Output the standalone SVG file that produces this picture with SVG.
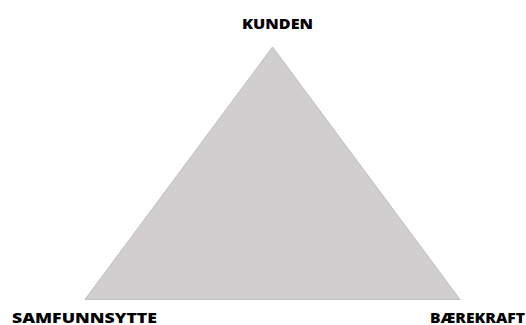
<svg xmlns="http://www.w3.org/2000/svg" width="526" height="325" viewBox="0 0 526 325">
<style>
.lbl{font-family:"Open Sans","Liberation Sans",sans-serif;font-weight:800;font-size:14px;fill:#000}
</style>
<rect width="526" height="325" fill="#fff"/>
<g id="triangle">
<polygon points="272.5,47 85,299.5 460,299.5" fill="#d0cece" stroke="#bfbdbd" stroke-width="1"/>
</g>
<g id="kunden"><text class="lbl" x="242" y="29" textLength="71" lengthAdjust="spacingAndGlyphs">KUNDEN</text></g>
<g id="samfunnsnytte"><text class="lbl" x="12" y="323" textLength="145" lengthAdjust="spacingAndGlyphs">SAMFUNNSYTTE</text></g>
<g id="baerekraft"><text class="lbl" x="430" y="323" textLength="95" lengthAdjust="spacingAndGlyphs">BÆREKRAFT</text></g>
</svg>
